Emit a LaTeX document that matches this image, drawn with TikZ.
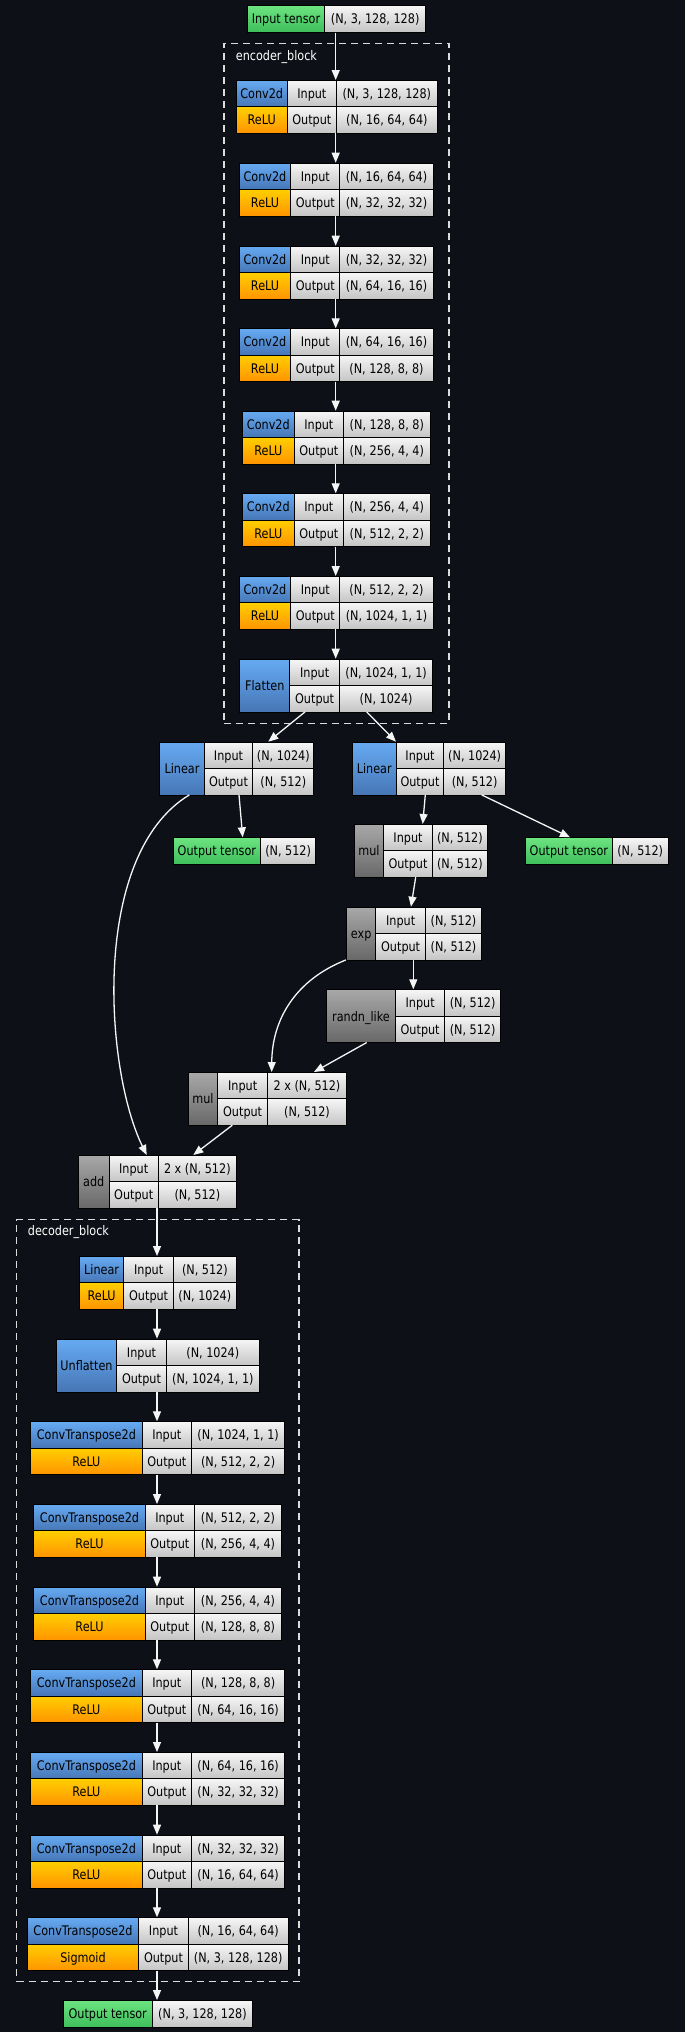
\documentclass[tikz,border=0pt]{standalone}
\usepackage{fontspec}
\setmainfont{DejaVu Sans}[FakeStretch=0.85]
\usetikzlibrary{arrows.meta,calc}
\definecolor{bg}{RGB}{13,17,23}
\definecolor{bluetop}{RGB}{102,170,242}
\definecolor{bluebot}{RGB}{70,118,182}
\definecolor{orgtop}{RGB}{255,206,0}
\definecolor{orgbot}{RGB}{255,148,0}
\definecolor{greytop}{RGB}{246,246,246}
\definecolor{greybot}{RGB}{196,196,196}
\definecolor{greentop}{RGB}{108,228,128}
\definecolor{greenbot}{RGB}{62,190,92}
\definecolor{optop}{RGB}{168,168,168}
\definecolor{opbot}{RGB}{104,104,104}
\definecolor{arrowc}{RGB}{245,245,245}
\definecolor{dashc}{RGB}{220,220,220}
\tikzset{
  cellbase/.style={draw=black, line width=1pt, inner sep=0pt, anchor=north west,
    text height=9.6pt, text depth=0pt, text=black, font=\fontsize{13.2}{15}\selectfont},
  cblue/.style={top color=bluetop, bottom color=bluebot},
  corange/.style={top color=orgtop, bottom color=orgbot},
  cgrey/.style={top color=greytop, bottom color=greybot},
  cgreen/.style={top color=greentop, bottom color=greenbot},
  cop/.style={top color=optop, bottom color=opbot},
  arr/.style={draw=arrowc, line width=1.3pt, -{Triangle[length=10pt,width=8pt]}},
  grp/.style={draw=dashc, line width=1.3pt, dash pattern=on 7pt off 5pt, inner sep=0pt, anchor=north west},
  grplabel/.style={text=white, anchor=west, inner sep=0pt, font=\fontsize{13.2}{15}\selectfont},
  encl/.style={inner sep=0pt, anchor=north west}
}
\newcommand\cel[7]{\node[cellbase,#2,minimum width={(#5-#3)*1pt},minimum height={(#6-#4)*1pt}] (#1) at (#3,#4) {#7};}
\newcommand\setx[4]{\def\xa{#1}\def\xb{#2}\def\xc{#3}\def\xd{#4}}
% id, yT, topname, topstyle, botname, botstyle, in, out
\newcommand\twoblk[8]{%
  \pgfmathsetmacro\ym{#2+26.4}\pgfmathsetmacro\yb{#2+52.8}%
  \node[encl, minimum width={(\xd-\xa)*1pt}, minimum height=52.8pt] (#1) at (\xa,#2) {};
  \cel{#1-n}{#4}{\xa}{#2}{\xb}{\ym}{#3}
  \cel{#1-m}{#6}{\xa}{\ym}{\xb}{\yb}{#5}
  \cel{#1-il}{cgrey}{\xb}{#2}{\xc}{\ym}{Input}
  \cel{#1-ol}{cgrey}{\xb}{\ym}{\xc}{\yb}{Output}
  \cel{#1-iv}{cgrey}{\xc}{#2}{\xd}{\ym}{#7}
  \cel{#1-ov}{cgrey}{\xc}{\ym}{\xd}{\yb}{#8}
}
% id, yT, name, style, in, out
\newcommand\oneblk[6]{%
  \pgfmathsetmacro\ym{#2+26.4}\pgfmathsetmacro\yb{#2+52.8}%
  \node[encl, minimum width={(\xd-\xa)*1pt}, minimum height=52.8pt] (#1) at (\xa,#2) {};
  \cel{#1-n}{#4}{\xa}{#2}{\xb}{\yb}{#3}
  \cel{#1-il}{cgrey}{\xb}{#2}{\xc}{\ym}{Input}
  \cel{#1-ol}{cgrey}{\xb}{\ym}{\xc}{\yb}{Output}
  \cel{#1-iv}{cgrey}{\xc}{#2}{\xd}{\ym}{#5}
  \cel{#1-ov}{cgrey}{\xc}{\ym}{\xd}{\yb}{#6}
}
\begin{document}
\begin{tikzpicture}[x=1pt,y=-1pt]
\fill[bg] (0,0) rectangle (685,2032);
\useasboundingbox (0,0) rectangle (685,2032);

% group boxes
\node[grp, minimum width=225pt, minimum height=680pt] (enc) at (223.3,42.7) {};
\node[grplabel] (enclab) at (235.7,56.7) {encoder\_block};
\node[grp, minimum width=282.3pt, minimum height=762pt] (dec) at (16,1219) {};
\node[grplabel] (declab) at (27.7,1232.3) {decoder\_block};

% input tensor
\cel{inp-n}{cgreen}{246.7}{5.3}{324.3}{31.7}{Input tensor}
\cel{inp-v}{cgrey}{324.3}{5.3}{425}{31.7}{(N, 3, 128, 128)}

% encoder
\setx{235.7}{286.7}{336}{436.7}
\twoblk{e1}{80}{Conv2d}{cblue}{ReLU}{corange}{(N, 3, 128, 128)}{(N, 16, 64, 64)}
\setx{238.7}{290.3}{339.3}{432.7}
\twoblk{e2}{162.7}{Conv2d}{cblue}{ReLU}{corange}{(N, 16, 64, 64)}{(N, 32, 32, 32)}
\twoblk{e3}{245.7}{Conv2d}{cblue}{ReLU}{corange}{(N, 32, 32, 32)}{(N, 64, 16, 16)}
\twoblk{e4}{328.3}{Conv2d}{cblue}{ReLU}{corange}{(N, 64, 16, 16)}{(N, 128, 8, 8)}
\setx{242}{293.7}{343}{429.7}
\twoblk{e5}{410.7}{Conv2d}{cblue}{ReLU}{corange}{(N, 128, 8, 8)}{(N, 256, 4, 4)}
\twoblk{e6}{493.3}{Conv2d}{cblue}{ReLU}{corange}{(N, 256, 4, 4)}{(N, 512, 2, 2)}
\setx{238.7}{290.3}{339.3}{432.7}
\twoblk{e7}{576}{Conv2d}{cblue}{ReLU}{corange}{(N, 512, 2, 2)}{(N, 1024, 1, 1)}
\setx{239.3}{289.3}{339}{432.3}
\oneblk{fl}{658.7}{Flatten}{cblue}{(N, 1024, 1, 1)}{(N, 1024)}

% heads
\setx{159.3}{203.7}{252.3}{313.3}
\oneblk{linL}{741.7}{Linear}{cblue}{(N, 1024)}{(N, 512)}
\setx{351.7}{395.7}{443.3}{505}
\oneblk{linR}{741.7}{Linear}{cblue}{(N, 1024)}{(N, 512)}
\cel{outL-n}{cgreen}{172.7}{837.3}{260}{864}{Output tensor}
\cel{outL-v}{cgrey}{260}{837.3}{315.3}{864}{(N, 512)}
\cel{outR-n}{cgreen}{525}{837.3}{611.7}{864}{Output tensor}
\cel{outR-v}{cgrey}{611.7}{837.3}{667.7}{864}{(N, 512)}

% reparametrisation
\setx{354}{383}{432}{486.7}
\oneblk{mul1}{824}{mul}{cop}{(N, 512)}{(N, 512)}
\setx{346}{375.3}{425}{481}
\oneblk{exp}{906.7}{exp}{cop}{(N, 512)}{(N, 512)}
\setx{326}{395}{444.3}{500}
\oneblk{randn}{989.3}{randn\_like}{cop}{(N, 512)}{(N, 512)}
\setx{187.7}{217.3}{267}{346}
\oneblk{mul2}{1072}{mul}{cop}{2 x (N, 512)}{(N, 512)}
\setx{77.7}{108.7}{157.7}{236}
\oneblk{add}{1155}{add}{cop}{2 x (N, 512)}{(N, 512)}

% decoder
\setx{79}{123.3}{173}{235.7}
\twoblk{d1}{1256}{Linear}{cblue}{ReLU}{corange}{(N, 512)}{(N, 1024)}
\setx{55.7}{116.3}{165.7}{259}
\oneblk{un}{1338.7}{Unflatten}{cblue}{(N, 1024)}{(N, 1024, 1, 1)}
\setx{30}{141.7}{191}{284.3}
\twoblk{c1}{1421.3}{ConvTranspose2d}{cblue}{ReLU}{corange}{(N, 1024, 1, 1)}{(N, 512, 2, 2)}
\setx{33.3}{144.7}{194}{281}
\twoblk{c2}{1504}{ConvTranspose2d}{cblue}{ReLU}{corange}{(N, 512, 2, 2)}{(N, 256, 4, 4)}
\twoblk{c3}{1586.7}{ConvTranspose2d}{cblue}{ReLU}{corange}{(N, 256, 4, 4)}{(N, 128, 8, 8)}
\setx{30}{141.7}{191}{284.3}
\twoblk{c4}{1669.3}{ConvTranspose2d}{cblue}{ReLU}{corange}{(N, 128, 8, 8)}{(N, 64, 16, 16)}
\twoblk{c5}{1752}{ConvTranspose2d}{cblue}{ReLU}{corange}{(N, 64, 16, 16)}{(N, 32, 32, 32)}
\twoblk{c6}{1834.7}{ConvTranspose2d}{cblue}{ReLU}{corange}{(N, 32, 32, 32)}{(N, 16, 64, 64)}
\setx{26.7}{138.3}{187.7}{287.7}
\twoblk{c7}{1917.3}{ConvTranspose2d}{cblue}{Sigmoid}{corange}{(N, 16, 64, 64)}{(N, 3, 128, 128)}
\cel{outF-n}{cgreen}{62.7}{2000}{151.7}{2026.7}{Output tensor}
\cel{outF-v}{cgrey}{151.7}{2000}{252.3}{2026.7}{(N, 3, 128, 128)}

% connectors
\coordinate (ex) at (335.7,0);
\coordinate (dx) at (157,0);
\draw[arr] (inp-v.south -| ex) -- (e1.north -| ex);
\draw[arr] (e1.south -| ex) -- (e2.north -| ex);
\draw[arr] (e2.south -| ex) -- (e3.north -| ex);
\draw[arr] (e3.south -| ex) -- (e4.north -| ex);
\draw[arr] (e4.south -| ex) -- (e5.north -| ex);
\draw[arr] (e5.south -| ex) -- (e6.north -| ex);
\draw[arr] (e6.south -| ex) -- (e7.north -| ex);
\draw[arr] (e7.south -| ex) -- (fl.north -| ex);
\draw[arr] ($(fl.south west)+(65.7,0)$) -- ($(linL.north west)+(109,0)$);
\draw[arr] ($(fl.south west)+(127.4,0)$) -- ($(linR.north west)+(44.3,0)$);
\draw[arr] ($(linL.south west)+(79.7,0)$) -- ($(outL-n.north west)+(70,0)$);
\draw[arr] ($(linL.south west)+(30,0)$) .. controls (90,855) and (105,1070) .. ($(add.north west)+(69,0)$);
\draw[arr] ($(linR.south west)+(73.6,0)$) -- ($(mul1.north west)+(68.7,0)$);
\draw[arr] ($(linR.south west)+(130,0)$) -- ($(outR-n.north west)+(45,0)$);
\draw[arr] ($(mul1.south west)+(61.7,0)$) -- ($(exp.north west)+(65,0)$);
\draw[arr] ($(exp.south west)+(67.3,0)$) -- ($(randn.north west)+(87.3,0)$);
\draw[arr] (exp.south west) .. controls (295,980) and (272,1020) .. ($(mul2.north west)+(84,0)$);
\draw[arr] ($(randn.south west)+(40.7,0)$) -- ($(mul2.north west)+(126.3,0)$);
\draw[arr] ($(mul2.south west)+(44.6,0)$) -- ($(add.north west)+(115.6,0)$);
\draw[arr] (add.south -| dx) -- (d1.north -| dx);
\draw[arr] (d1.south -| dx) -- (un.north -| dx);
\draw[arr] (un.south -| dx) -- (c1.north -| dx);
\draw[arr] (c1.south -| dx) -- (c2.north -| dx);
\draw[arr] (c2.south -| dx) -- (c3.north -| dx);
\draw[arr] (c3.south -| dx) -- (c4.north -| dx);
\draw[arr] (c4.south -| dx) -- (c5.north -| dx);
\draw[arr] (c5.south -| dx) -- (c6.north -| dx);
\draw[arr] (c6.south -| dx) -- (c7.north -| dx);
\draw[arr] (c7.south -| dx) -- (outF-n.north -| dx);
\end{tikzpicture}
\end{document}
